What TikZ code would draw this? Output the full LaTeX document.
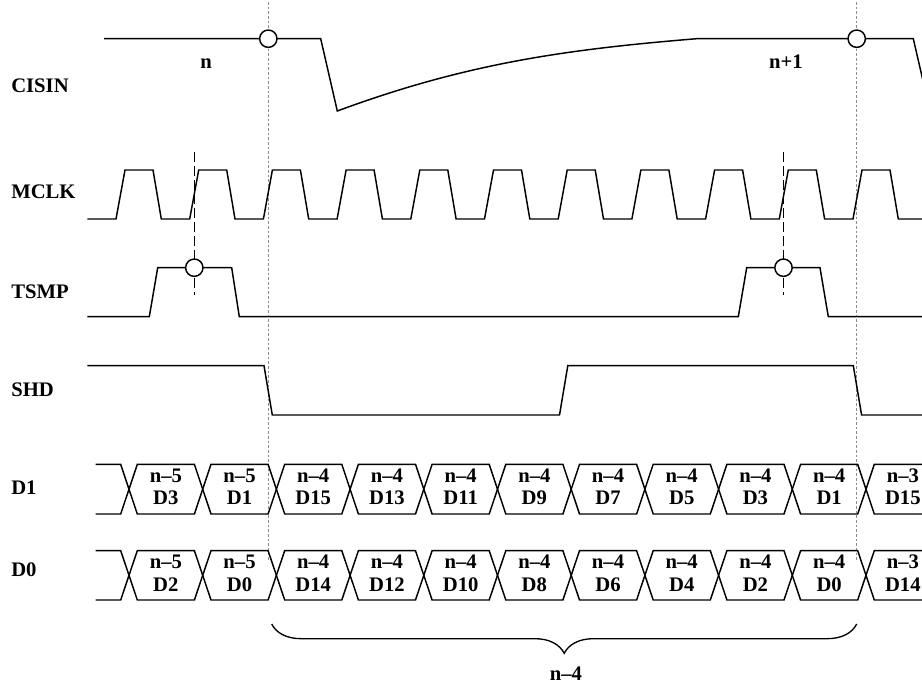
\documentclass[tikz,border=0pt]{standalone}
\usepackage{fontspec}
\setmainfont{Liberation Serif}
\usetikzlibrary{decorations.pathreplacing}

\begin{document}
\begin{tikzpicture}[x=0.75pt,y=-0.75pt,
  wave/.style={draw=black,line width=1.1pt,line join=miter},
  sig/.style={font=\fontsize{15.5}{17}\selectfont\bfseries,anchor=base west,inner sep=0pt},
  cyc/.style={font=\fontsize{15.5}{17}\selectfont\bfseries,anchor=base,inner sep=0pt},
  cell/.style={font=\fontsize{15.5}{16.7}\selectfont\bfseries,align=center,inner sep=0pt},
  probe/.style={circle,draw=black,fill=white,line width=1.1pt,minimum size=13pt,inner sep=0pt},
  guide/.style={draw=black!45,line width=0.8pt,dash pattern=on 2pt off 1.5pt},
  sample/.style={draw=black,line width=0.9pt,dash pattern=on 7.5pt off 3pt}
]
  \useasboundingbox (0,0) rectangle (922,686);

  % signal names
  \node[sig] (cisin) at (11,92.7)  {CISIN};
  \node[sig] (mclk)  at (11,198.7) {MCLK};
  \node[sig] (tsmp)  at (11,298.3) {TSMP};
  \node[sig] (shd)   at (11,396)   {SHD};
  \node[sig] (d1)    at (11,494.3) {D1};
  \node[sig] (d0)    at (11,576.7) {D0};

  % grey reference lines
  \coordinate (ga) at (268.3,2);   \coordinate (gb) at (268.3,562);
  \coordinate (gc) at (856.7,2);   \coordinate (gd) at (856.7,562);
  \draw[guide] (ga) -- (gb);
  \draw[guide] (gc) -- (gd);

  % CISIN
  \draw[wave] (104,38.7) -- (320.7,38.7) -- (337.3,111)
    .. controls (467,63) and (567,49.4) .. (696.7,38.7) -- (913.3,38.7) -- (930,111);
  \node[probe] (cs1) at (268.3,38.7) {};
  \node[probe] (cs2) at (856.7,38.7) {};
  \node[cyc] (cyn)  at (206,68.3) {n};
  \node[cyc] (cyn1) at (786,68.3) {n+1};

  % MCLK
  \draw[wave] (87.3,219) \foreach \k in {0,...,10}{
      -- ({116+73.7*\k},219) -- ({125+73.7*\k},170) -- ({153+73.7*\k},170) -- ({161.3+73.7*\k},219)}
    -- (922,219);

  % TSMP
  \draw[sample] (194.3,152) -- (194.3,295);
  \draw[sample] (783.5,152) -- (783.5,295);
  \draw[wave] (87.3,316.7) -- (149.3,316.7) -- (157.7,267.7) -- (231.7,267.7) -- (239.3,316.7)
    -- (738.3,316.7) -- (746.7,267.7) -- (820,267.7) -- (828.3,316.7) -- (922,316.7);
  \node[probe] (ts1) at (194.3,267.7) {};
  \node[probe] (ts2) at (783.5,267.7) {};

  % SHD
  \draw[wave] (87.3,365.7) -- (264,365.7) -- (272.3,415) -- (559.5,415) -- (567.8,365.7)
    -- (853.3,365.7) -- (861.6,415) -- (922,415);

  % D1 / D0 busses
  \draw[wave] (95.7,464.3) -- (120.7,464.3) -- (129,489.2) -- (120.7,514) -- (95.7,514);
  \draw[wave] (95.7,550.7) -- (120.7,550.7) -- (129,575.3) -- (120.7,600) -- (95.7,600);
  \foreach \i in {0,...,10}{
    \draw[wave] ({129+73.7*\i},489.2) -- ({137.3+73.7*\i},464.3) -- ({194.4+73.7*\i},464.3)
      -- ({202.7+73.7*\i},489.2) -- ({194.4+73.7*\i},514) -- ({137.3+73.7*\i},514) -- cycle;
    \draw[wave] ({129+73.7*\i},575.3) -- ({137.3+73.7*\i},550.7) -- ({194.4+73.7*\i},550.7)
      -- ({202.7+73.7*\i},575.3) -- ({194.4+73.7*\i},600) -- ({137.3+73.7*\i},600) -- cycle;
  }
  \foreach \grp/\bit [count=\i from 0] in {5/3,5/1,4/15,4/13,4/11,4/9,4/7,4/5,4/3,4/1,3/15}
    \node[cell] (d1-\i) at ({165.85+73.7*\i},487) {n--\grp\\D\bit};
  \foreach \grp/\bit [count=\i from 0] in {5/2,5/0,4/14,4/12,4/10,4/8,4/6,4/4,4/2,4/0,3/14}
    \node[cell] (d0-\i) at ({165.85+73.7*\i},573.3) {n--\grp\\D\bit};

  % word span
  \coordinate (ba) at (271.7,624);
  \coordinate (bb) at (856.7,624);
  \draw[line width=1pt,decorate,decoration={brace,mirror,amplitude=22pt}] (ba) -- (bb);
  \node[cyc] (span) at (566,680.5) {n--4};
\end{tikzpicture}
\end{document}
